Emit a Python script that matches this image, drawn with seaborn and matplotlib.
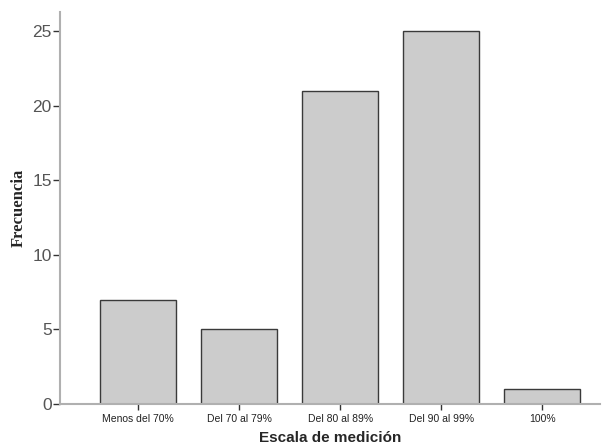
import seaborn as sns
import numpy as np
import pandas as pd
import matplotlib.pyplot as plt

categorias = ['Menos del 70%', 'Del 70 al 79%', 'Del 80 al 89%', 'Del 90 al 99%', '100%']
frecuencia = [7, 5, 21, 25, 1]

df = pd.DataFrame({'escala': categorias, 'frecuencia': frecuencia})

sns.set_style('white')
plt.rcParams['font.family'] = ['Liberation Sans', 'DejaVu Sans']

fig = plt.figure(figsize=(6.11, 4.47), dpi=100)
ax = fig.add_axes([60/611, 43/447, 540/611, 392/447])

sns.barplot(data=df, x='escala', y='frecuencia', color='#cccccc', width=0.75,
            edgecolor='#3a3a3a', linewidth=1, saturation=1, ax=ax)

ax.set_xlim(-0.77, 4.57)
ax.set_ylim(0, 26.3)
ax.set_yticks([0, 5, 10, 15, 20, 25])

for s in ['top', 'right']:
    ax.spines[s].set_visible(False)
for s in ['left', 'bottom']:
    ax.spines[s].set_color('#b0b0b0')
    ax.spines[s].set_linewidth(1.5)

ax.tick_params(axis='y', length=5, width=1, color='#333333', labelsize=12.5, labelcolor='#555555', pad=1, left=True)
ax.tick_params(axis='x', length=4, width=1, color='#333333', labelsize=7.5, labelcolor='#222222', pad=3, bottom=True)

ax.set_ylabel('Frecuencia', family=['Liberation Serif'], fontweight='bold', fontsize=12, labelpad=4)
ax.set_xlabel('Escala de medición', fontweight='bold', fontsize=11, labelpad=5)

fig.savefig('out.png', dpi=100)
